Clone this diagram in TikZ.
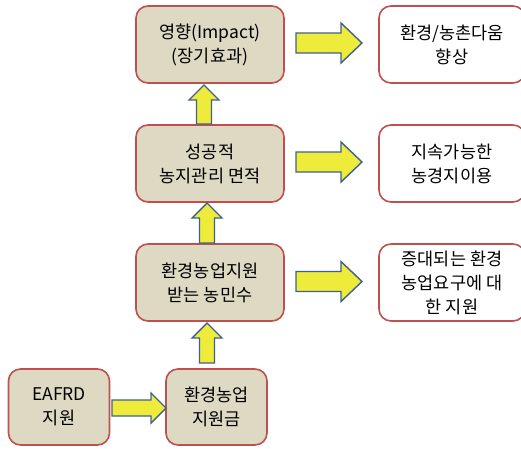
\documentclass[tikz,border=0pt]{standalone}
\usepackage{fontspec}
\setmainfont{Noto Sans CJK KR}
\definecolor{boxtan}{HTML}{DDD9C3}
\definecolor{boxred}{HTML}{C0504D}
\definecolor{arrowyellow}{HTML}{EEEB3A}
\definecolor{arrowblue}{HTML}{3E6290}
\tikzset{
  base/.style={draw=boxred, line width=1.6pt, rounded corners=12pt, align=center,
    font=\fontsize{17.5}{24}\selectfont, inner sep=0pt},
  tanbox/.style={base, fill=boxtan, minimum width=148pt, minimum height=77pt},
  whitebox/.style={base, fill=white, minimum width=146pt, minimum height=77pt},
  smallbox/.style={base, fill=boxtan, minimum width=101pt, minimum height=76pt},
  blockarrow/.style={fill=arrowyellow, draw=arrowblue, line width=1.4pt, line join=miter},
}
% right block arrow: x1, x2, yc, shaft half, head half, head length
\newcommand\rblock[6]{%
  \draw[blockarrow] (#1,#3-#4) -- (#2-#6,#3-#4) -- (#2-#6,#3-#5) -- (#2,#3)
    -- (#2-#6,#3+#5) -- (#2-#6,#3+#4) -- (#1,#3+#4) -- cycle;}
% up block arrow: xc, ytop, ybottom, shaft half, head half, head length
\newcommand\ublock[6]{%
  \draw[blockarrow] (#1-#4,#3) -- (#1-#4,#2+#6) -- (#1-#5,#2+#6) -- (#1,#2)
    -- (#1+#5,#2+#6) -- (#1+#4,#2+#6) -- (#1+#4,#3) -- cycle;}
\begin{document}
\begin{tikzpicture}[x=1pt,y=-1pt]
\useasboundingbox (0,0) rectangle (521,448);
\node[tanbox] (impact) at (210,44.5) {영향(Impact)\\(장기효과)};
\node[whitebox] (env) at (452,44.5) {환경/농촌다움\\향상};
\node[tanbox] (area) at (210,163.5) {성공적\\농지관리 면적};
\node[whitebox] (sust) at (452,163.5) {지속가능한\\농경지이용};
\node[tanbox] (farmers) at (210,282.5) {환경농업지원\\받는 농민수};
\node[whitebox] (demand) at (452,282.5) {증대되는 환경\\농업요구에 대\\한 지원};
\node[smallbox] (eafrd) at (59,407) {EAFRD\\지원};
\node[smallbox] (fund) at (216.5,407) {환경농업\\지원금};
% connectors (block arrows)
\rblock{296}{362}{43}{10}{20}{21}
\rblock{296}{362}{162}{10}{20}{21}
\rblock{296}{362}{281.5}{10}{20}{21}
\rblock{112}{166}{408}{8}{15}{15}
\ublock{204}{85}{124}{7.5}{15}{15}
\ublock{207}{203}{243}{7.5}{15}{15}
\ublock{207}{323}{363}{7.5}{15}{15}
\end{tikzpicture}
\end{document}
